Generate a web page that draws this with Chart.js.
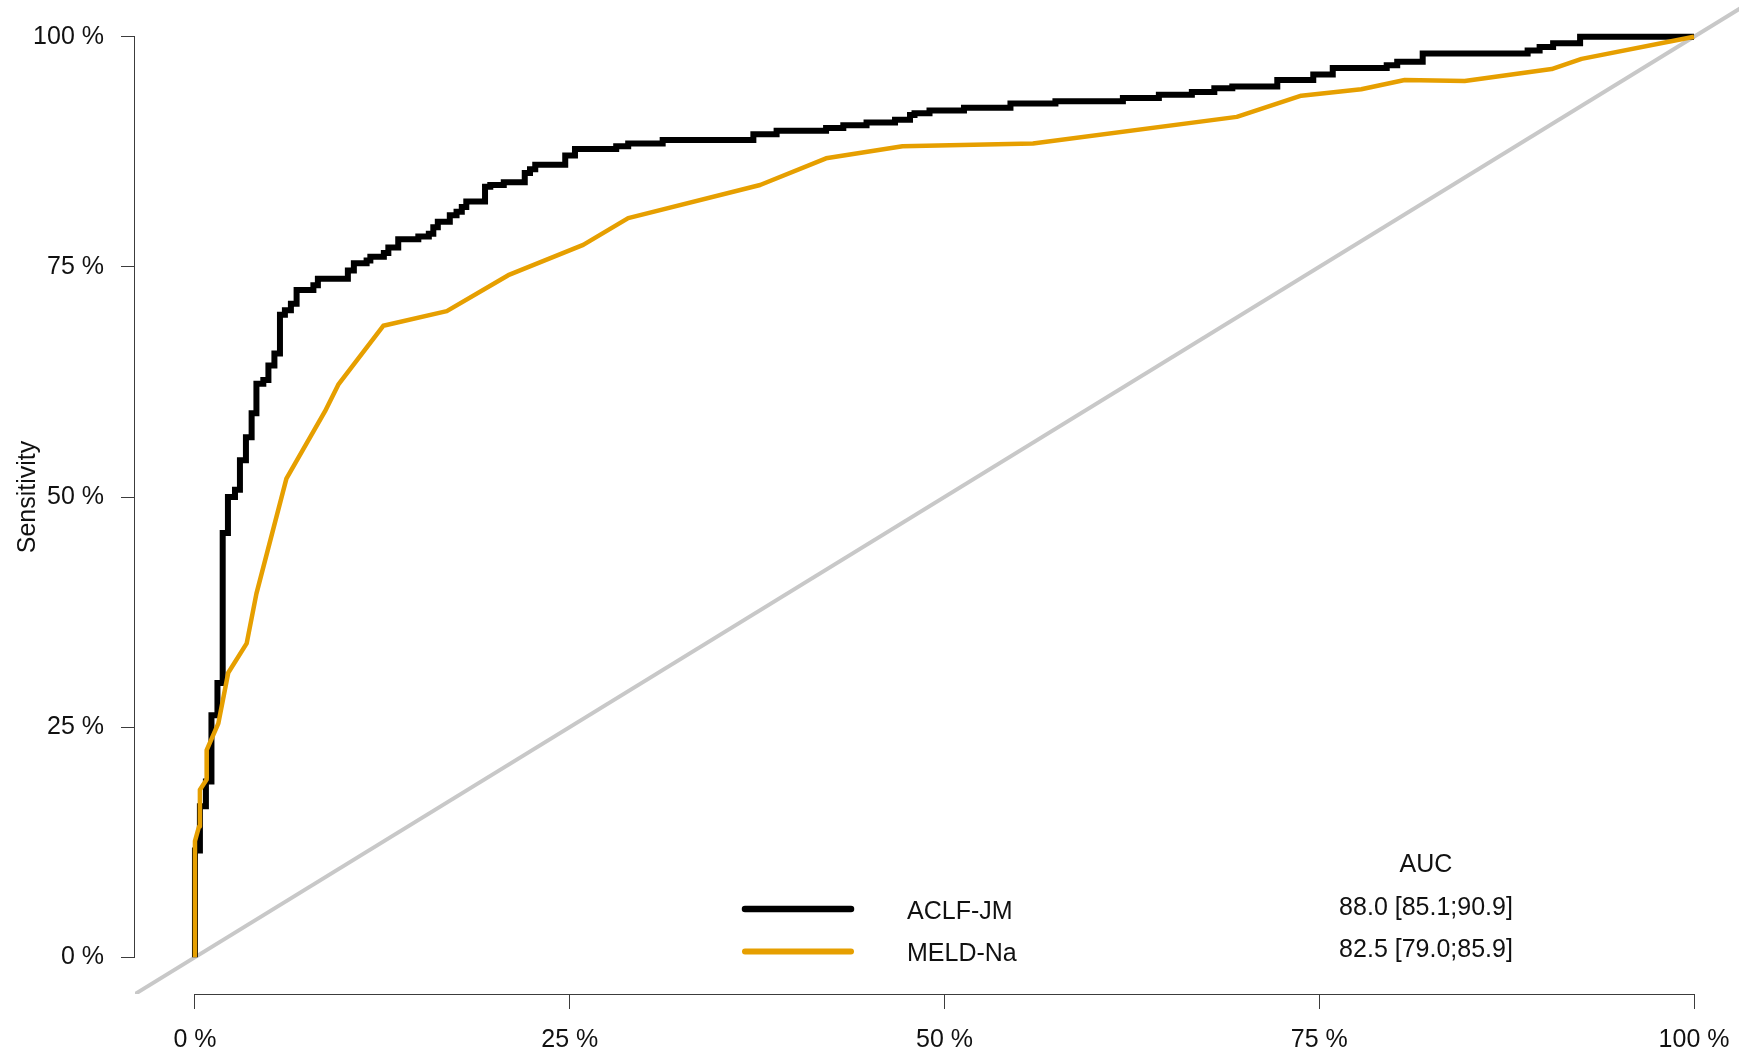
<!DOCTYPE html>
<html>
<head>
<meta charset="utf-8">
<script src="https://cdn.jsdelivr.net/npm/chart.js@4/dist/chart.umd.min.js"></script>
<style>
  html, body { margin: 0; padding: 0; background: #fff; overflow: hidden; }
  #wrap { width: 1739px; height: 1059px; }
</style>
</head>
<body>
<div id="wrap"><canvas id="roc" width="1739" height="1059"></canvas></div>
<script>
// Axis ticks (percent)
const tickValues = [0, 25, 50, 75, 100];
const tickLabels = ['0 %', '25 %', '50 %', '75 %', '100 %'];

// Series names and AUC with 95% CI
const seriesNames = ['ACLF-JM', 'MELD-Na'];
const aucHeader = 'AUC';
const aucLabels = ['88.0 [85.1;90.9]', '82.5 [79.0;85.9]'];

// ACLF-JM empirical ROC: 1 - specificity (%) and sensitivity (%) at each step
const aclfFpr = [0, 0, 0.33, 0.73, 1.1, 1.5, 1.85, 2.2, 2.67, 3.0, 3.4, 3.78, 4.1, 4.56, 4.9, 5.3, 5.67,
  6.0, 6.4, 6.78, 7.9, 8.2, 10.2, 10.6, 11.45, 11.7, 12.6, 12.9, 13.56, 14.9, 15.6, 15.9, 16.2, 17.0,
  17.45, 17.8, 18.1, 19.35, 19.7, 20.6, 22.0, 22.35, 22.7, 24.7, 25.35, 28.1, 28.9, 31.2, 37.25, 38.8,
  42.1, 43.25, 44.8, 46.7, 47.7, 48.0, 49.0, 51.3, 54.4, 57.4, 61.9, 64.3, 66.5, 68.0, 69.2, 72.2,
  74.6, 75.9, 79.5, 80.2, 81.9, 88.9, 89.7, 90.6, 92.4, 100];
const aclfTpr = [0, 11.6, 16.4, 19.1, 26.3, 29.8, 46.1, 50.0, 50.8, 54.0, 56.5, 59.1, 62.3, 62.7, 64.3, 65.6, 69.8,
  70.3, 71.0, 72.5, 73.0, 73.7, 74.6, 75.4, 75.7, 76.1, 76.5, 77.1, 78.0, 78.3, 78.6, 79.3, 79.9, 80.6,
  81.0, 81.5, 82.1, 83.7, 83.9, 84.2, 85.2, 85.6, 86.1, 87.1, 87.8, 88.1, 88.4, 88.8, 89.4, 89.8,
  90.1, 90.4, 90.7, 91.0, 91.5, 91.7, 92.0, 92.3, 92.75, 93.0, 93.35, 93.7, 94.0, 94.4, 94.6, 95.3,
  95.9, 96.6, 96.9, 97.3, 98.2, 98.5, 98.9, 99.3, 100, 100];

// MELD-Na ROC
const meldFpr = [0, 0, 0.27, 0.33, 0.78, 0.78, 1.56, 2.22, 3.45, 4.1, 6.1, 8.67, 9.56, 12.56, 16.8,
  20.9, 25.9, 28.9, 37.7, 42.1, 47.2, 55.9, 69.5, 73.8, 77.8, 80.7, 84.7, 90.5, 92.5, 100];
const meldTpr = [0, 12.6, 14.2, 18.2, 19.3, 22.5, 25.4, 30.9, 34.1, 39.5, 52.0, 59.3, 62.2, 68.6, 70.2,
  74.1, 77.4, 80.3, 83.9, 86.8, 88.1, 88.4, 91.3, 93.6, 94.3, 95.3, 95.2, 96.5, 97.6, 100];

// Chance diagonal, drawn across the whole plot region
const chanceLine = [-4, 104];

const COLORS = { aclf: '#000000', meld: '#E69F00', chance: '#c8c8c8', axis: '#3c3c3c', text: '#111111' };
const FONT = "'Liberation Sans', Arial, sans-serif";

const zip = (xs, ys) => xs.map((v, i) => ({ x: v, y: ys[i] }));

Chart.defaults.font.family = FONT;
Chart.defaults.font.size = 25;
Chart.defaults.color = COLORS.text;

// Axis lines spanning only the first to the last tick, as in base R graphics
const axisLines = {
  id: 'axisLines',
  afterDatasetsDraw(chart) {
    const { ctx, scales: { x, y }, chartArea } = chart;
    const first = tickValues[0], last = tickValues[tickValues.length - 1];
    ctx.save();
    ctx.strokeStyle = COLORS.axis;
    ctx.lineWidth = 1;
    ctx.beginPath();
    const yb = Math.round(chartArea.bottom) + 0.5;
    ctx.moveTo(x.getPixelForValue(first), yb);
    ctx.lineTo(x.getPixelForValue(last), yb);
    const xl = Math.round(chartArea.left) - 0.5;
    ctx.moveTo(xl, y.getPixelForValue(first));
    ctx.lineTo(xl, y.getPixelForValue(last));
    ctx.stroke();
    ctx.restore();
  }
};

// Legend with AUC column
const aucLegend = {
  id: 'aucLegend',
  afterDraw(chart) {
    const { ctx } = chart;
    const rows = [
      { name: seriesNames[0], auc: aucLabels[0], color: COLORS.aclf, lw: 6.5, lineY: 909, nameBase: 919, aucBase: 915 },
      { name: seriesNames[1], auc: aucLabels[1], color: COLORS.meld, lw: 6, lineY: 951.5, nameBase: 960.5, aucBase: 957 }
    ];
    ctx.save();
    ctx.font = `25px ${FONT}`;
    ctx.fillStyle = COLORS.text;
    ctx.textBaseline = 'alphabetic';
    ctx.textAlign = 'center';
    ctx.fillText(aucHeader, 1426, 871.5);
    rows.forEach(r => {
      ctx.strokeStyle = r.color;
      ctx.lineWidth = r.lw;
      ctx.lineCap = 'round';
      ctx.beginPath();
      ctx.moveTo(745, r.lineY);
      ctx.lineTo(851, r.lineY);
      ctx.stroke();
      ctx.textAlign = 'left';
      ctx.fillText(r.name, 907, r.nameBase);
      ctx.textAlign = 'center';
      ctx.fillText(r.auc, 1426, r.aucBase);
    });
    ctx.restore();
  }
};

const setTicks = scale => { scale.ticks = tickValues.map(v => ({ value: v })); };
const tickText = v => tickLabels[tickValues.indexOf(v)];
const noPadding = s => { s.paddingTop = 0; s.paddingBottom = 0; s.paddingLeft = 0; s.paddingRight = 0; };

new Chart(document.getElementById('roc'), {
  type: 'scatter',
  data: {
    datasets: [
      { label: seriesNames[1], data: zip(meldFpr, meldTpr), showLine: true, borderColor: COLORS.meld,
        borderWidth: 4.5, borderJoinStyle: 'round', pointRadius: 0, order: 0 },
      { label: seriesNames[0], data: zip(aclfFpr, aclfTpr), showLine: true, stepped: 'before',
        borderColor: COLORS.aclf, borderWidth: 6, pointRadius: 0, order: 1 },
      { label: 'chance', data: zip(chanceLine, chanceLine), showLine: true, borderColor: COLORS.chance,
        borderWidth: 4, pointRadius: 0, order: 2 }
    ]
  },
  options: {
    responsive: false,
    animation: false,
    devicePixelRatio: 1,
    layout: { padding: 0 },
    events: [],
    plugins: { legend: { display: false }, tooltip: { enabled: false } },
    scales: {
      x: {
        type: 'linear', min: -4, max: 103,
        afterBuildTicks: setTicks,
        afterFit: s => { s.height = 65; noPadding(s); },
        border: { display: false },
        grid: { drawOnChartArea: false, drawTicks: true, tickLength: 15, color: COLORS.axis, lineWidth: 1 },
        ticks: { padding: 16, maxRotation: 0, autoSkip: false, callback: tickText }
      },
      y: {
        type: 'linear', min: -4, max: 104,
        afterBuildTicks: setTicks,
        afterFit: s => { s.width = 135; noPadding(s); },
        border: { display: false },
        grid: { drawOnChartArea: false, drawTicks: true, tickLength: 14, color: COLORS.axis, lineWidth: 1 },
        ticks: { padding: 17, autoSkip: false, callback: tickText },
        title: { display: true, text: 'Sensitivity', padding: { top: 13, bottom: 0 }, font: { size: 25 } }
      }
    }
  },
  plugins: [axisLines, aucLegend]
});
</script>
</body>
</html>
